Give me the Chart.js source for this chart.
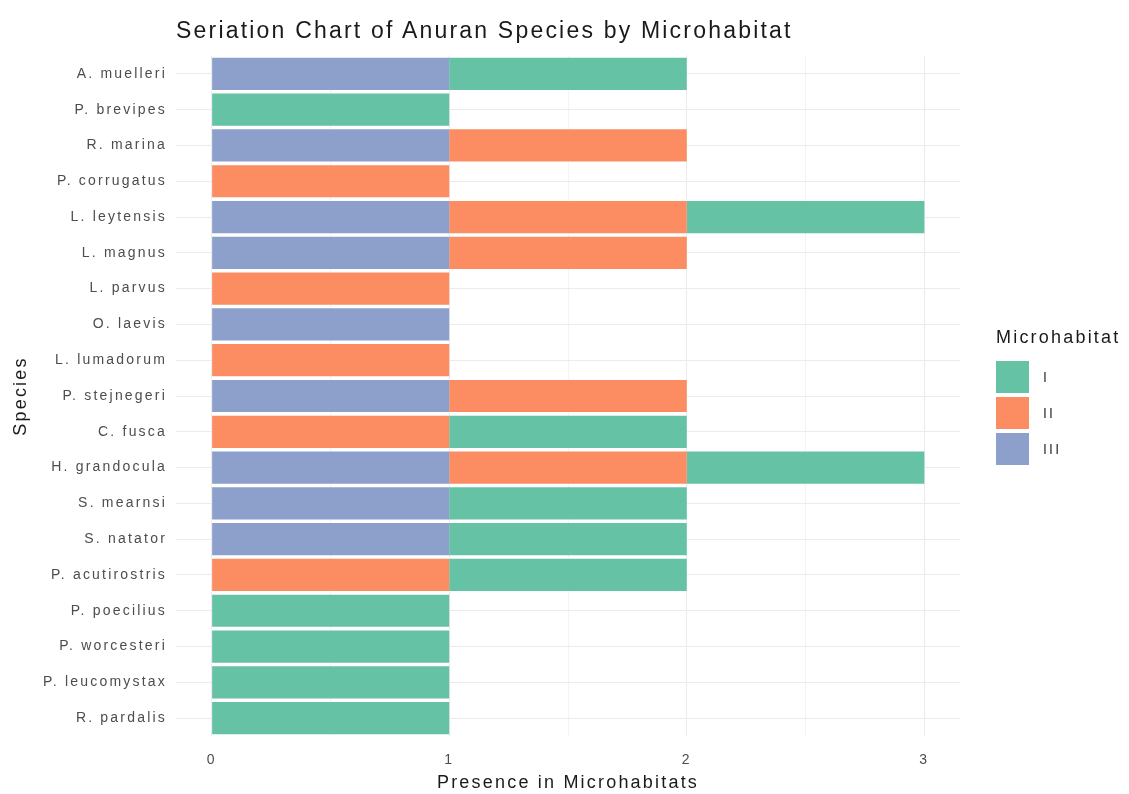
<!DOCTYPE html>
<html>
<head>
<meta charset="utf-8">
<script src="https://cdn.jsdelivr.net/npm/chart.js@4.4.1/dist/chart.umd.min.js"></script>
<style>
  body { margin: 0; background: #fff; font-family: "Liberation Sans", Arial, sans-serif; }
  #wrap { position: relative; width: 1129px; height: 794px; }
  #title { position: absolute; left: 176px; top: 17px; font-size: 23px; letter-spacing: 2.2px; color: #1a1a1a; white-space: nowrap; }
  #legend { position: absolute; left: 996px; top: 327px; color: #1a1a1a; letter-spacing: 2.2px; }
  #legend .head { font-size: 18px; margin-bottom: 11px; }
  #legend .row { display: flex; align-items: center; height: 36px; }
  #legend .key { width: 33px; height: 32px; margin-right: 14px; }
  #legend .lab { font-size: 14px; color: #333; }
</style>
</head>
<body>
<div id="wrap">
  <canvas id="chart" width="1129" height="794"></canvas>
  <div id="title">Seriation Chart of Anuran Species by Microhabitat</div>
  <div id="legend"></div>
</div>
<script>
const species = [
  "A. muelleri", "P. brevipes", "R. marina", "P. corrugatus", "L. leytensis",
  "L. magnus", "L. parvus", "O. laevis", "L. lumadorum", "P. stejnegeri",
  "C. fusca", "H. grandocula", "S. mearnsi", "S. natator", "P. acutirostris",
  "P. poecilius", "P. worcesteri", "P. leucomystax", "R. pardalis"
];
// presence (1) / absence (0) per microhabitat, same order as species
const habitatIII = [1, 0, 1, 0, 1, 1, 0, 1, 0, 1, 0, 1, 1, 1, 0, 0, 0, 0, 0];
const habitatII  = [0, 0, 1, 1, 1, 1, 1, 0, 1, 1, 1, 1, 0, 0, 1, 0, 0, 0, 0];
const habitatI   = [1, 1, 0, 0, 1, 0, 0, 0, 0, 0, 1, 1, 1, 1, 1, 1, 1, 1, 1];
const xTicks = [0, 1, 2, 3];
const xMinorTicks = [0.5, 1.5, 2.5];

const colors = { I: "#66c2a5", II: "#fc8d62", III: "#8da0cb" };

// stacked left to right: III, II, I
const datasets = [
  { label: "III", data: habitatIII, backgroundColor: colors.III },
  { label: "II", data: habitatII, backgroundColor: colors.II },
  { label: "I", data: habitatI, backgroundColor: colors.I },
].map(d => Object.assign(d, { barPercentage: 0.9, categoryPercentage: 1, borderWidth: 0 }));

// the reference text is set wide, so space the canvas text a little
const spacing = {
  id: "spacing",
  beforeLayout: (chart) => { chart.ctx.letterSpacing = "2.2px"; },
  beforeDraw: (chart) => { chart.ctx.letterSpacing = "2.2px"; },
};

const ctx = document.getElementById("chart").getContext("2d");
new Chart(ctx, {
  type: "bar",
  data: { labels: species, datasets: datasets },
  plugins: [spacing],
  options: {
    indexAxis: "y",
    responsive: false,
    animation: false,
    layout: { padding: { top: 56, right: 169, bottom: 0, left: 0 } },
    scales: {
      x: {
        stacked: true,
        min: -0.15,
        max: 3.15,
        afterBuildTicks: (scale) => {
          scale.ticks = [...xTicks, ...xMinorTicks].sort().map(v => ({ value: v }));
        },
        afterFit: (scale) => { scale.height = 58; },
        border: { display: false },
        grid: {
          drawTicks: false,
          color: (c) => (xTicks.includes(c.tick.value) ? "#ebebeb" : "#f4f4f4"),
          lineWidth: 1,
        },
        ticks: {
          padding: 16,
          autoSkip: false,
          maxRotation: 0,
          color: "#4d4d4d",
          font: { family: "Liberation Sans", size: 14 },
          callback: (v) => (xTicks.includes(v) ? String(v) : ""),
        },
        title: {
          display: true,
          text: "Presence in Microhabitats",
          color: "#1a1a1a",
          font: { family: "Liberation Sans", size: 18 },
          padding: { top: 0, bottom: 0 },
        },
      },
      y: {
        stacked: true,
        afterFit: (scale) => { scale.width = 176; },
        border: { display: false },
        grid: { offset: false, drawTicks: false, color: "#ebebeb", lineWidth: 1 },
        ticks: {
          padding: 9,
          autoSkip: false,
          color: "#4d4d4d",
          font: { family: "Liberation Sans", size: 14 },
        },
        title: {
          display: true,
          text: "Species",
          color: "#1a1a1a",
          font: { family: "Liberation Sans", size: 18 },
          padding: { top: 10, bottom: 0 },
        },
      },
    },
    plugins: {
      legend: { display: false },
      tooltip: { enabled: false },
    },
  },
});

// legend on the right: I, II, III
const legend = document.getElementById("legend");
legend.innerHTML = '<div class="head">Microhabitat</div>' +
  datasets.slice().reverse().map(d =>
    '<div class="row"><div class="key" style="background:' + d.backgroundColor + '"></div><div class="lab">' + d.label + '</div></div>'
  ).join("");
</script>
</body>
</html>
